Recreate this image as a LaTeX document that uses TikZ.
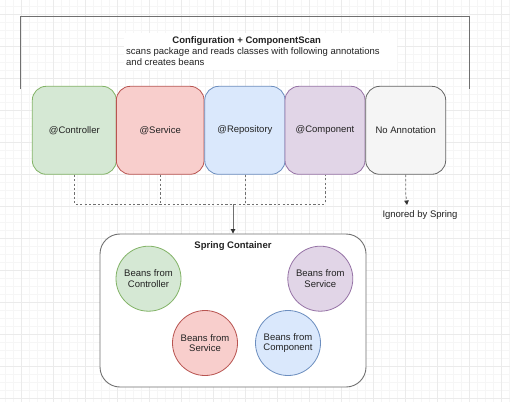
\documentclass[tikz,border=0pt]{standalone}
\usepackage{fontspec}
\setmainfont{Liberation Sans}
\usetikzlibrary{arrows.meta}
\definecolor{gfill}{HTML}{D5E8D4}\definecolor{gdraw}{HTML}{82B366}
\definecolor{rfill}{HTML}{F8CECC}\definecolor{rdraw}{HTML}{B85450}
\definecolor{bfill}{HTML}{DAE8FC}\definecolor{bdraw}{HTML}{6C8EBF}
\definecolor{pfill}{HTML}{E1D5E7}\definecolor{pdraw}{HTML}{9673A6}
\definecolor{nfill}{HTML}{F5F5F5}\definecolor{ndraw}{HTML}{666666}
\definecolor{minorc}{HTML}{F6F6F6}\definecolor{majorc}{HTML}{EBEBEB}
\definecolor{linec}{HTML}{707070}
\definecolor{tipc}{HTML}{333333}
\definecolor{txt}{HTML}{222222}
\tikzset{
  minorgrid/.style={draw=minorc, line width=0.5pt},
  majorgrid/.style={draw=majorc, line width=0.6pt},
  annbox/.style={rectangle, rounded corners=14pt, line width=0.8pt, minimum height=88pt, inner sep=0pt, text=txt},
  bean/.style={circle, line width=0.8pt, minimum size=65pt, inner sep=0pt, align=center, text=txt, font=\fontsize{9.5}{10.6}\selectfont},
  dashline/.style={draw=linec, line width=0.8pt, dash pattern=on 2.2pt off 2.2pt},
  tip/.style={-{Triangle[length=4.5pt,width=4.5pt,fill=tipc,color=tipc]}},
  arrowline/.style={draw=linec, line width=0.9pt, tip},
  bracketline/.style={draw=linec, line width=0.9pt},
  lbl/.style={text=txt, inner sep=0pt},
}
\begin{document}
\begin{tikzpicture}[x=1pt,y=-1pt,font=\fontsize{9.5}{10.6}\selectfont]
\useasboundingbox (0,0) rectangle (510,402);
\fill[white] (0,0) rectangle (510,402);
% grid
\foreach \i in {0,...,63} \draw[minorgrid] ({5+8*\i},0) -- ({5+8*\i},402);
\foreach \i in {0,...,50} \draw[minorgrid] (0,{6.3+8*\i}) -- (510,{6.3+8*\i});
\foreach \i in {0,...,15} \draw[majorgrid] ({21+32*\i},0) -- ({21+32*\i},402);
\foreach \i in {0,...,12} \draw[majorgrid] (0,{14.3+32*\i}) -- (510,{14.3+32*\i});
% bracket
\draw[bracketline] (20.7,89) -- (20.7,16.7) -- (469.3,16.7) -- (469.3,89);
% text block
\fill[white] (124,33) rectangle (397,70);
\node[lbl, font=\fontsize{9.5}{10.6}\selectfont\bfseries] (title) at (246.7,41.5) {Configuration + ComponentScan};
\node[lbl, anchor=north west, align=left] (desc) at (126,47.5) {scans package and reads classes with following annotations\\and creates beans};
% annotation boxes
\node[annbox, fill=gfill, draw=gdraw, minimum width=84pt] (ctrl) at (74.3,130.3) {@Controller};
\node[annbox, fill=rfill, draw=rdraw, minimum width=87.7pt] (serv) at (160.2,130.3) {@Service};
\node[annbox, fill=bfill, draw=bdraw, minimum width=80.3pt] (repo) at (244.9,130.3) {@Repository};
\node[annbox, fill=pfill, draw=pdraw, minimum width=80pt] (comp) at (325,130.3) {@Component};
\node[annbox, fill=nfill, draw=ndraw, minimum width=80pt] (noann) at (405.7,130.3) {No Annotation};
% container
\node[rectangle, rounded corners=20pt, draw=linec, line width=0.9pt, fill=white, minimum width=266pt, minimum height=153pt] (cont) at (233,310.5) {};
\node[lbl, font=\fontsize{9.5}{10.6}\selectfont\bfseries] (sc) at (233,246) {Spring Container};
\node[bean, fill=gfill, draw=gdraw] (b1) at (148.5,278.7) {Beans from\\Controller};
\node[bean, fill=pfill, draw=pdraw] (b2) at (320.3,278.7) {Beans from\\Service};
\node[bean, fill=rfill, draw=rdraw] (b3) at (205,343) {Beans from\\Service};
\node[bean, fill=bfill, draw=bdraw] (b4) at (288,343) {Beans from\\Component};
% connectors
\coordinate (j) at (233,204);
\draw[dashline] (ctrl.south) |- (comp.south |- j) -- (comp.south);
\draw[dashline] (serv.south) -- (serv.south |- j);
\draw[dashline] (repo.south) -- (repo.south |- j);
\draw[arrowline] (j) -- (cont.north);
\coordinate (bend) at (405.7,193);
\coordinate (ig) at (407,205);
\draw[dashline, tip] (noann.south) -- (bend) -- (ig);
\node[lbl] (ignored) at (420,215) {Ignored by Spring};
\end{tikzpicture}
\end{document}
